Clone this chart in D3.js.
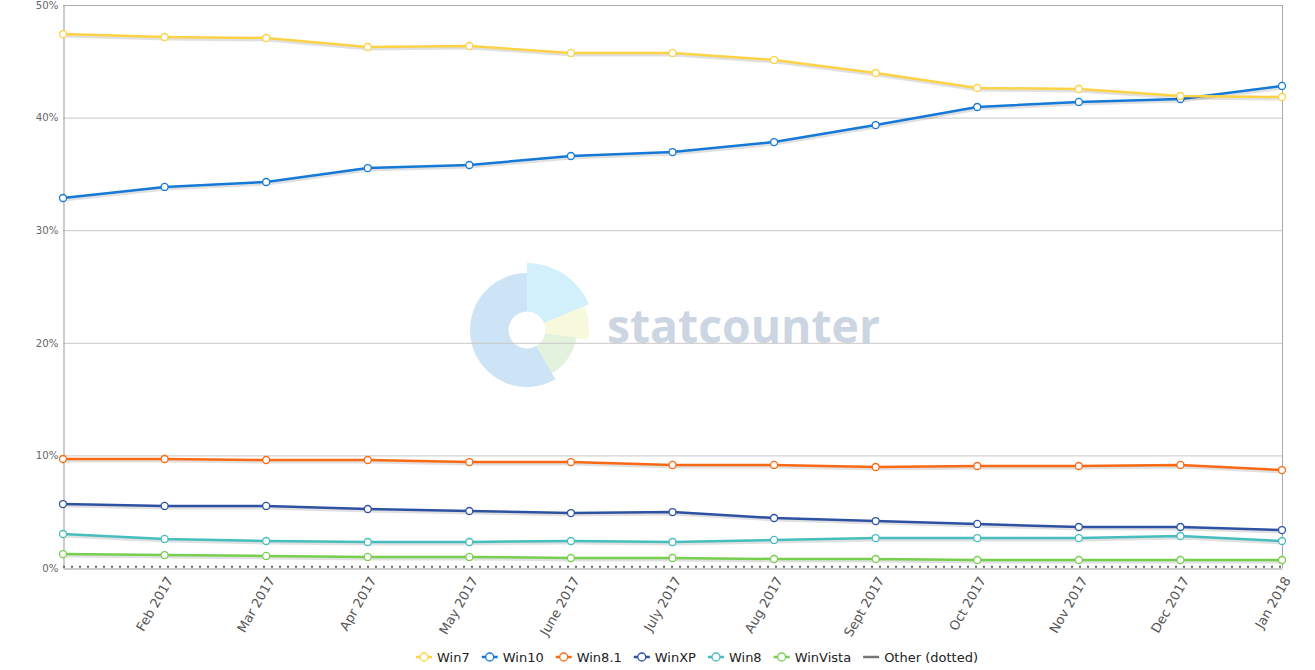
<!DOCTYPE html>
<html><head><meta charset="utf-8">
<script src="https://cdn.jsdelivr.net/npm/d3@7"></script>
<style>
body{margin:0;background:#fff;}
svg{display:block;font-family:"DejaVu Sans",sans-serif;}
</style></head><body>
<svg id="c" width="1315" height="670"></svg>
<script>
const months = ["Jan 2017","Feb 2017","Mar 2017","Apr 2017","May 2017","June 2017","July 2017","Aug 2017","Sept 2017","Oct 2017","Nov 2017","Dec 2017","Jan 2018"];
const win7 = [47.42,47.16,47.07,46.27,46.36,45.74,45.74,45.12,43.96,42.63,42.54,41.92,41.83];
const win10 = [32.86,33.84,34.28,35.52,35.79,36.59,36.94,37.83,39.34,40.94,41.39,41.65,42.81];
const win81 = [9.68,9.68,9.59,9.59,9.41,9.41,9.15,9.15,8.97,9.06,9.06,9.15,8.70];
const winXP = [5.68,5.51,5.51,5.24,5.06,4.88,4.97,4.44,4.17,3.91,3.64,3.64,3.37];
const win8 = [3.02,2.58,2.40,2.31,2.31,2.40,2.31,2.49,2.66,2.66,2.66,2.84,2.40];
const winVista = [1.24,1.15,1.07,0.98,0.98,0.89,0.89,0.80,0.80,0.71,0.71,0.71,0.71];
const other = [0.1,0.1,0.1,0.1,0.1,0.1,0.1,0.1,0.1,0.1,0.1,0.1,0.1];
const yTicks = [0,10,20,30,40,50];

const series = [
  {name:"Win7", values:win7, color:"#fcd347"},
  {name:"Win10", values:win10, color:"#1479d7"},
  {name:"Win8.1", values:win81, color:"#fa6a14"},
  {name:"WinXP", values:winXP, color:"#2e52a3"},
  {name:"Win8", values:win8, color:"#46bdbf"},
  {name:"WinVista", values:winVista, color:"#77cf4e"}
];

const svg = d3.select("#c");
const L=63, R=1282, T=5, B=568;
const x = d3.scalePoint().domain(months).range([L,R]);
const y = d3.scaleLinear().domain([0,50]).range([B,T]);

// watermark
const wm = svg.append("g").attr("transform","translate(527,330)");
const segs = [
  {a0:0, a1:67.5, r:67, c:"#d1f0fb"},
  {a0:67.5, a1:99, r:62, c:"#f7f9dc"},
  {a0:99, a1:150, r:50, c:"#e3f2dd"},
  {a0:150, a1:360, r:57, c:"#cde3f6"}
];
segs.forEach(s=>{
  wm.append("path").attr("d", d3.arc().innerRadius(18.5).outerRadius(s.r)
    .startAngle(s.a0*Math.PI/180).endAngle(s.a1*Math.PI/180)()).attr("fill",s.c);
});
svg.append("text").attr("x",607).attr("y",343).attr("font-family","'Open Sans',sans-serif")
  .attr("font-weight","bold").attr("font-size",46).attr("fill","#ccd5e2")
  .attr("textLength",273).attr("lengthAdjust","spacingAndGlyphs").text("statcounter");

// gridlines
svg.append("g").selectAll("line").data(yTicks.filter(d=>d>0)).join("line")
  .attr("x1",L).attr("x2",R).attr("y1",d=>y(d)+0.5).attr("y2",d=>y(d)+0.5)
  .attr("stroke","#c8c8c8").attr("stroke-width",1);
// borders
svg.append("line").attr("x1",R+0.5).attr("x2",R+0.5).attr("y1",T).attr("y2",B).attr("stroke","#aaa");
svg.append("line").attr("x1",L).attr("x2",R).attr("y1",T+0.5).attr("y2",T+0.5).attr("stroke","#aaa");

// y axis
const ya = svg.append("g").attr("transform",`translate(${L+0.5},0)`)
  .call(d3.axisLeft(y).tickValues(yTicks).tickSize(0).tickPadding(5).tickFormat(d=>d+"%"));
ya.select(".domain").attr("stroke","#999");
ya.selectAll("text").attr("fill","#666").attr("font-size",10.2).attr("font-family","'DejaVu Sans',sans-serif");

// x axis
const xa = svg.append("g").attr("transform",`translate(0,${B+0.5})`)
  .call(d3.axisBottom(x).tickSize(0).tickFormat((d,i)=>i===0?"":d));
xa.select(".domain").attr("stroke","#999");
xa.selectAll("text").attr("fill","#555").attr("font-size",13).attr("font-family","'DejaVu Sans',sans-serif")
  .attr("text-anchor","end").attr("dy","0").attr("dx","0")
  .attr("transform","translate(6,10) rotate(-60)");

// other dotted
const line = d3.line().x((d,i)=>x(months[i])).y(d=>y(d));
svg.append("path").attr("d",line(other)).attr("fill","none").attr("stroke","#666")
  .attr("stroke-width",2).attr("stroke-dasharray","2,6");

// series
series.slice().reverse().forEach(s=>{
  svg.append("path").attr("d",line(s.values)).attr("fill","none")
    .attr("stroke","rgba(0,0,0,0.12)").attr("stroke-width",4).attr("transform","translate(1,1.5)");
  svg.append("path").attr("d",line(s.values)).attr("fill","none")
    .attr("stroke",s.color).attr("stroke-width",2.5).attr("stroke-linejoin","round");
  svg.append("g").selectAll("circle").data(s.values).join("circle")
    .attr("cx",(d,i)=>x(months[i])).attr("cy",d=>y(d)).attr("r",3.5)
    .attr("fill","#fff").attr("stroke",s.color).attr("stroke-width",1.3);
});

// legend
const items = series.map(s=>({name:s.name,color:s.color,dot:true})).concat([{name:"Other (dotted)",color:"#777",dot:false}]);
const lg = svg.append("g");
let cx = 0;
const ly = 657;
items.forEach((it,i)=>{
  const g = lg.append("g").attr("transform",`translate(${cx},0)`);
  g.append("line").attr("x1",0).attr("x2",16).attr("y1",ly).attr("y2",ly).attr("stroke",it.color).attr("stroke-width",2.5);
  if(it.dot) g.append("circle").attr("cx",8).attr("cy",ly).attr("r",4).attr("fill","#fff").attr("stroke",it.color).attr("stroke-width",1.3);
  const t = g.append("text").attr("x",21).attr("y",ly+4.5).attr("font-size",13).attr("fill","#222").text(it.name);
  cx += 21 + t.node().getComputedTextLength() + 12;
});
const total = cx - 12;
lg.attr("transform",`translate(${697 - total/2},0)`);
</script>
</body></html>
